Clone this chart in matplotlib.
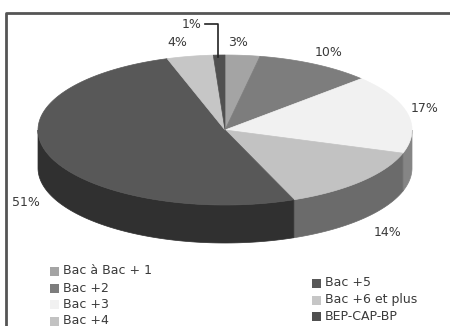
import numpy as np
import matplotlib
matplotlib.use("Agg")
import matplotlib.pyplot as plt
from matplotlib.patches import Polygon, Rectangle

# share of each diploma level, clockwise from 12 o'clock
labels = ["Bac à Bac + 1", "Bac +2", "Bac +3", "Bac +4",
          "Bac +5", "Bac +6 et plus", "BEP-CAP-BP"]
values = [3, 10, 17, 14, 51, 4, 1]
colors = ["#a4a4a4", "#7d7d7d", "#f1f1f1", "#c2c2c2",
          "#585858", "#c6c6c6", "#505050"]
pct_text = ["3%", "10%", "17%", "14%", "51%", "4%", "1%"]
label_pos = [(238, 43), (329, 52), (425, 108), (388, 232), (26, 203), (177, 43), (192, 24)]

# pie geometry in pixel space (y grows downward)
CX, CY, RX, RY, DEPTH = 225, 130, 187, 75, 38
TXT = "#3a3a3a"


def shade(c, k=0.55):
    rgb = np.array(matplotlib.colors.to_rgb(c))
    return tuple(rgb * k)


def arc(t1, t2, n=120):
    t = np.radians(np.linspace(t1, t2, n))
    return CX + RX * np.cos(t), CY - RY * np.sin(t)


fig = plt.figure(figsize=(4.5, 3.26), dpi=100)
ax = fig.add_axes([0, 0, 1, 1])
ax.set_xlim(0, 450)
ax.set_ylim(326, 0)
ax.axis("off")

# slice angle ranges, clockwise from 90 deg
bounds = 90 - 360 * np.concatenate([[0], np.cumsum(values)]) / sum(values)
spans = list(zip(bounds[:-1], bounds[1:]))

# side walls: only the front half (180..360 deg) is visible
for (a1, a2), c in zip(spans, colors):
    hi, lo = max(a1, a2), min(a1, a2)
    for off in (0, -360, 360):
        s1, s2 = max(lo + off, 180), min(hi + off, 360)
        if s2 > s1:
            x, y = arc(s1, s2)
            pts = np.column_stack([np.r_[x, x[::-1]], np.r_[y, y[::-1] + DEPTH]])
            ax.add_patch(Polygon(pts, closed=True, fc=shade(c), ec=shade(c), lw=0.5))

# top faces
for (a1, a2), c in zip(spans, colors):
    x, y = arc(a1, a2)
    pts = np.column_stack([np.r_[CX, x], np.r_[CY, y]])
    ax.add_patch(Polygon(pts, closed=True, fc=c, ec=c, lw=0.5))

# percentage labels
for (lx, ly), t in zip(label_pos, pct_text):
    ax.text(lx, ly, t, ha="center", va="center", fontsize=9, color=TXT)

# leader line for the 1% slice
mid = np.radians((spans[-1][0] + spans[-1][1]) / 2)
ax.plot([205, 218, 218], [24, 24, CY - RY * np.sin(mid) + 2], color="#222222", lw=1.2)

# outer frame (left and top)
ax.plot([6, 6, 450], [326, 13, 13], color="#555555", lw=2, solid_capstyle="butt")

# legend in two columns
left_rows = [271, 288, 304, 321]
right_rows = [283, 300, 316]
rows = [(50, y) for y in left_rows] + [(312, y) for y in right_rows]
for (sx, sy), lab, c in zip(rows, labels, colors):
    ax.add_patch(Rectangle((sx, sy - 4.5), 9, 9, fc=c, ec="none"))
    ax.text(sx + 13, sy, lab, ha="left", va="center", fontsize=9, color=TXT)

fig.savefig("out.png", dpi=100)
